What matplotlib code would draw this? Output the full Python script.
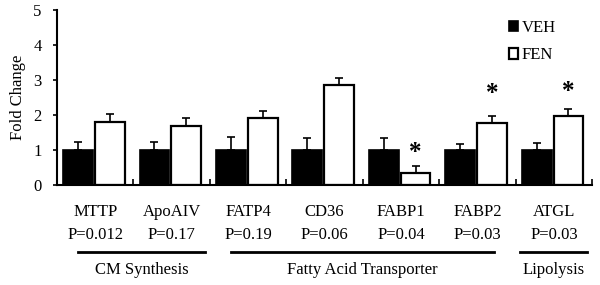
import numpy as np
import matplotlib
matplotlib.use('Agg')
import matplotlib.pyplot as plt

plt.rcParams['font.family'] = ['Liberation Serif', 'DejaVu Serif']

# data
genes = ['MTTP', 'ApoAIV', 'FATP4', 'CD36', 'FABP1', 'FABP2', 'ATGL']
p_values = ['P=0.012', 'P=0.17', 'P=0.19', 'P=0.06', 'P=0.04', 'P=0.03', 'P=0.03']
veh = [1.0, 1.0, 1.0, 1.0, 1.0, 1.0, 1.0]
veh_err = [0.22, 0.23, 0.38, 0.35, 0.35, 0.17, 0.19]
fen = [1.81, 1.69, 1.91, 2.85, 0.33, 1.76, 1.97]
fen_err = [0.21, 0.22, 0.20, 0.20, 0.21, 0.21, 0.21]
star_height = [None, None, None, None, 0.92, 2.62, 2.67]
groups = ['CM Synthesis', 'Fatty Acid Transporter', 'Lipolysis']
group_span = [(0.27, 1.94), (2.28, 5.71), (6.05, 6.93)]

fig = plt.figure(figsize=(6, 2.85), dpi=100)
ax = fig.add_axes([0.095, 0.351, 0.892, 0.614])

x = np.arange(len(genes))
w = 0.39
zeros = np.zeros(len(genes))
ax.bar(x + 0.275, veh, w, color='black', edgecolor='black', linewidth=1.2,
       yerr=[zeros, veh_err], error_kw=dict(ecolor='black', elinewidth=1.2, capsize=3, capthick=1.2),
       label='VEH')
ax.bar(x + 0.69, fen, w, color='white', edgecolor='black', linewidth=1.6,
       yerr=[zeros, fen_err], error_kw=dict(ecolor='black', elinewidth=1.2, capsize=3, capthick=1.2),
       label='FEN')

# significance stars
for i in range(len(genes)):
    if star_height[i] is not None:
        ax.text(x[i] + 0.69, star_height[i], '*', ha='center', va='center',
                fontsize=18, fontweight='bold')

ax.set_xlim(0, 7)
ax.set_ylim(0, 5)
ax.set_yticks(range(6))
ax.set_xticks(range(1, 8))
ax.set_xticklabels([])
ax.tick_params(axis='x', direction='in', length=4, width=1.2)
ax.tick_params(axis='y', direction='out', length=3, width=1.2, labelsize=12, pad=8)
ax.spines['top'].set_visible(False)
ax.spines['right'].set_visible(False)
ax.spines['left'].set_linewidth(1.5)
ax.spines['bottom'].set_linewidth(1.5)
ax.set_ylabel('Fold Change', fontsize=12, labelpad=5)

# labels under the axis
for i in range(len(genes)):
    ax.text(x[i] + 0.5, -0.77, genes[i], ha='center', va='center', fontsize=12, clip_on=False)
    ax.text(x[i] + 0.5, -1.43, p_values[i], ha='center', va='center', fontsize=12, clip_on=False)

for name, (a, b) in zip(groups, group_span):
    ax.plot([a, b], [-1.91, -1.91], color='black', linewidth=2, clip_on=False)
    ax.text((a + b) / 2, -2.43, name, ha='center', va='center', fontsize=12, clip_on=False)

ax.legend(loc='upper right', bbox_to_anchor=(0.96, 1.03), frameon=False, fontsize=12,
          handlelength=0.55, handleheight=0.55, handletextpad=0.2, labelspacing=0.7)

fig.savefig('out.png', dpi=100)
